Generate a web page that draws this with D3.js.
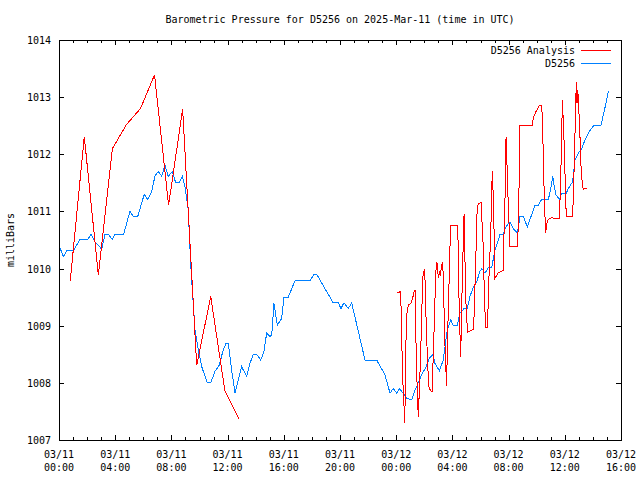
<!DOCTYPE html>
<html><head><meta charset="utf-8">
<script src="https://cdn.jsdelivr.net/npm/d3@7"></script>
<style>
html,body{margin:0;padding:0;background:#fff;}
text{font-family:"DejaVu Sans Mono","Liberation Mono",monospace;font-size:10px;fill:#000;}
</style></head>
<body>
<svg id="chart" width="640" height="480"></svg>
<script>
// ---- data (hours since 2025-03-11 00:00 UTC) ----
const titleText = "Barometric Pressure for D5256 on 2025-Mar-11 (time in UTC)";
const yLabel = "milliBars";
const seriesNames = ["D5256 Analysis", "D5256"];
const yTicks = [1007, 1008, 1009, 1010, 1011, 1012, 1013, 1014];

const analysisHours1 = [0.80, 1.80, 2.80, 3.80, 4.80, 5.80, 6.80, 7.80, 8.80, 9.80, 10.80, 11.80, 12.83];
const analysisP1 = [1009.78, 1012.31, 1009.89, 1012.10, 1012.52, 1012.80, 1013.39, 1011.11, 1012.79, 1008.31, 1009.51, 1007.87, 1007.36];

const analysisHours2 = [24.08, 24.32, 24.41, 24.48, 24.56, 24.61, 24.68, 24.75, 24.86, 25.05, 25.17, 25.29, 25.34, 25.41, 25.46, 25.50, 25.57, 25.64, 25.74, 25.82, 25.89, 25.96, 26.00, 26.05, 26.10, 26.24, 26.33, 26.41, 26.55, 26.60, 26.67, 26.74, 26.81, 26.85, 26.90, 26.95, 27.03, 27.07, 27.14, 27.24, 27.31, 27.35, 27.42, 27.49, 27.59, 27.64, 27.71, 27.78, 27.83, 27.88, 28.38, 28.42, 28.47, 28.54, 28.59, 28.66, 28.73, 28.83, 28.88, 28.92, 28.97, 29.02, 29.06, 29.20, 29.49, 29.54, 29.68, 29.73, 29.84, 30.04, 30.09, 30.20, 30.25, 30.32, 30.37, 30.51, 30.56, 30.73, 30.80, 30.84, 30.89, 30.96, 31.03, 31.15, 31.27, 31.51, 31.62, 31.67, 31.74, 31.77, 31.82, 31.86, 31.91, 31.98, 32.05, 32.10, 32.65, 32.69, 32.76, 32.81, 33.67, 33.76, 33.95, 34.19, 34.36, 34.40, 34.47, 34.52, 34.59, 34.64, 34.71, 34.83, 35.07, 35.30, 35.61, 35.66, 35.73, 35.80, 35.82, 35.89, 35.96, 36.01, 36.06, 36.10, 36.56, 36.63, 36.70, 36.78, 36.82, 36.87, 36.92, 36.99, 37.08, 37.15, 37.24, 37.31, 37.60];
const analysisP2 = [1009.57, 1009.60, 1008.60, 1008.00, 1007.57, 1007.29, 1008.58, 1009.19, 1009.36, 1009.39, 1009.48, 1009.62, 1009.62, 1008.70, 1008.20, 1007.85, 1007.41, 1007.82, 1008.50, 1009.22, 1009.85, 1009.90, 1010.00, 1009.80, 1009.30, 1008.30, 1007.93, 1007.88, 1007.84, 1008.20, 1008.70, 1009.31, 1009.83, 1010.07, 1010.12, 1009.95, 1009.83, 1009.95, 1009.87, 1010.07, 1010.12, 1009.81, 1009.14, 1008.50, 1007.94, 1008.60, 1009.31, 1009.89, 1010.40, 1010.75, 1010.75, 1010.24, 1009.48, 1008.84, 1008.45, 1009.31, 1010.07, 1010.95, 1010.43, 1009.72, 1009.37, 1009.23, 1008.88, 1008.90, 1008.94, 1009.16, 1010.30, 1010.91, 1011.14, 1011.15, 1010.90, 1010.37, 1009.80, 1009.25, 1008.97, 1008.97, 1009.60, 1010.60, 1011.38, 1011.70, 1011.38, 1010.70, 1009.83, 1009.88, 1009.93, 1009.95, 1009.97, 1010.57, 1011.10, 1011.90, 1012.31, 1012.05, 1011.60, 1011.10, 1010.67, 1010.38, 1010.38, 1010.90, 1011.60, 1012.50, 1012.50, 1012.64, 1012.75, 1012.85, 1012.86, 1012.60, 1012.00, 1011.45, 1010.90, 1010.63, 1010.79, 1010.86, 1010.89, 1010.88, 1010.87, 1011.20, 1011.80, 1012.60, 1012.95, 1012.60, 1012.15, 1011.70, 1011.30, 1010.92, 1010.92, 1011.44, 1012.10, 1012.90, 1013.27, 1012.90, 1013.13, 1012.84, 1012.31, 1011.80, 1011.50, 1011.39, 1011.41];

const stationHours = [0.00, 0.31, 0.55, 1.02, 1.49, 2.04, 2.28, 2.56, 3.04, 3.27, 3.51, 3.79, 3.99, 4.60, 5.05, 5.29, 5.60, 6.07, 6.31, 6.60, 6.83, 7.07, 7.31, 7.54, 7.78, 8.06, 8.31, 8.54, 8.78, 8.97, 9.20, 9.37, 9.52, 9.68, 9.91, 10.16, 10.56, 10.80, 11.10, 11.41, 11.69, 11.89, 12.05, 12.29, 12.53, 12.76, 13.00, 13.17, 13.36, 13.59, 13.83, 14.07, 14.36, 14.59, 14.78, 15.02, 15.14, 15.30, 15.54, 15.85, 16.01, 16.32, 16.80, 17.86, 18.15, 18.34, 19.52, 19.88, 20.07, 20.28, 20.59, 20.83, 21.78, 22.61, 23.20, 23.56, 23.79, 24.04, 24.22, 24.46, 24.75, 25.10, 25.27, 25.55, 25.81, 26.12, 26.36, 26.60, 26.76, 27.07, 27.35, 27.54, 27.64, 27.88, 28.06, 28.35, 28.54, 28.83, 29.06, 29.25, 29.49, 29.73, 29.96, 30.09, 30.32, 30.56, 30.80, 31.03, 31.27, 31.39, 31.62, 31.81, 32.10, 32.33, 32.62, 32.81, 33.05, 33.33, 33.64, 33.88, 34.11, 34.36, 34.83, 35.00, 35.14, 35.25, 35.37, 35.61, 35.78, 36.09, 36.25, 36.56, 36.73, 36.96, 37.20, 37.44, 37.74, 38.08, 38.58, 38.74, 38.93, 39.10];
const stationP = [1010.41, 1010.21, 1010.31, 1010.31, 1010.51, 1010.51, 1010.60, 1010.47, 1010.34, 1010.60, 1010.60, 1010.51, 1010.60, 1010.60, 1011.00, 1010.91, 1010.91, 1011.30, 1011.21, 1011.35, 1011.62, 1011.70, 1011.62, 1011.81, 1011.61, 1011.70, 1011.50, 1011.50, 1011.61, 1011.43, 1011.03, 1010.09, 1009.51, 1008.93, 1008.58, 1008.28, 1008.00, 1008.00, 1008.20, 1008.31, 1008.58, 1008.69, 1008.69, 1008.22, 1007.82, 1008.05, 1008.28, 1008.20, 1008.11, 1008.34, 1008.50, 1008.50, 1008.40, 1008.55, 1008.87, 1008.81, 1008.84, 1009.39, 1009.01, 1009.13, 1009.50, 1009.50, 1009.79, 1009.79, 1009.90, 1009.90, 1009.40, 1009.40, 1009.30, 1009.40, 1009.30, 1009.40, 1008.40, 1008.40, 1008.14, 1007.82, 1007.90, 1007.82, 1007.90, 1007.83, 1007.73, 1007.70, 1007.83, 1007.99, 1008.14, 1008.28, 1008.43, 1008.50, 1008.34, 1008.21, 1008.40, 1008.75, 1008.93, 1009.10, 1009.01, 1009.01, 1009.22, 1009.30, 1009.30, 1009.51, 1009.68, 1009.77, 1009.95, 1010.00, 1009.92, 1010.02, 1010.02, 1010.33, 1010.50, 1010.60, 1010.60, 1010.73, 1010.82, 1010.70, 1010.62, 1010.91, 1010.91, 1010.73, 1010.94, 1011.11, 1011.11, 1011.21, 1011.21, 1011.40, 1011.61, 1011.43, 1011.29, 1011.21, 1011.31, 1011.31, 1011.40, 1011.52, 1011.90, 1012.02, 1012.10, 1012.25, 1012.40, 1012.51, 1012.51, 1012.69, 1012.89, 1013.10];

// ---- chart ----
const t0 = Date.UTC(2025, 2, 11, 0, 0);
const toDate = h => new Date(t0 + h * 3600000);
const M = {left: 59, right: 621, top: 40, bottom: 440};
const svg = d3.select("#chart");

const x = d3.scaleUtc().domain([toDate(0), toDate(40)]).range([M.left, M.right]);
const y = d3.scaleLinear().domain([1007, 1014]).range([M.bottom, M.top]);

const zip = (hs, ps) => hs.map((h, i) => ({t: toDate(h), p: ps[i]}));
const line = d3.line().x(d => x(d.t)).y(d => y(d.p));

svg.append("clipPath").attr("id", "pc").append("rect")
  .attr("x", M.left).attr("y", M.top).attr("width", M.right - M.left + 1).attr("height", M.bottom - M.top);

const majors = x.ticks(d3.utcHour.every(4));
const minors = x.ticks(d3.utcHour.every(1));
const tickG = svg.append("g").attr("stroke", "#000").attr("stroke-width", 1).attr("shape-rendering", "crispEdges");
minors.forEach(d => {
  const xx = Math.round(x(d)) + 0.5;
  const len = majors.some(m => +m === +d) ? 5 : 3;
  tickG.append("line").attr("x1", xx).attr("x2", xx).attr("y1", M.bottom).attr("y2", M.bottom - len);
  tickG.append("line").attr("x1", xx).attr("x2", xx).attr("y1", M.top).attr("y2", M.top + len);
});
yTicks.forEach(v => {
  const yy = Math.round(y(v)) + 0.5;
  tickG.append("line").attr("x1", M.left).attr("x2", M.left + 5).attr("y1", yy).attr("y2", yy);
  tickG.append("line").attr("x1", M.right).attr("x2", M.right - 5).attr("y1", yy).attr("y2", yy);
});

// series
const plot = svg.append("g").attr("clip-path", "url(#pc)").attr("fill", "none")
  .attr("stroke-width", 1).attr("shape-rendering", "crispEdges");
plot.append("path").datum(zip(stationHours, stationP)).attr("d", line).attr("stroke", "#0080ff");
plot.append("path").datum(zip(analysisHours1, analysisP1)).attr("d", line).attr("stroke", "#ff0000");
plot.append("path").datum(zip(analysisHours2, analysisP2)).attr("d", line).attr("stroke", "#ff0000");

// frame
svg.append("rect").attr("x", M.left + 0.5).attr("y", M.top + 0.5)
  .attr("width", M.right - M.left).attr("height", M.bottom - M.top)
  .attr("fill", "none").attr("stroke", "#000").attr("shape-rendering", "crispEdges");

// y tick labels
yTicks.forEach(v => {
  svg.append("text").attr("x", 51).attr("y", y(v) + 4).attr("text-anchor", "end").text(v);
});
// x tick labels
const fDate = d3.utcFormat("%m/%d"), fTime = d3.utcFormat("%H:%M");
majors.forEach(d => {
  const t = svg.append("text").attr("text-anchor", "middle");
  t.append("tspan").attr("x", x(d)).attr("y", 458).text(fDate(d));
  t.append("tspan").attr("x", x(d)).attr("y", 471).text(fTime(d));
});

// title & axis label
svg.append("text").attr("x", 340).attr("y", 23).attr("text-anchor", "middle").text(titleText);
svg.append("text").attr("transform", "translate(14,240) rotate(-90)").attr("text-anchor", "middle").text(yLabel);

// legend
const legColors = ["#ff0000", "#0080ff"];
seriesNames.forEach((n, i) => {
  const ly = 50 + i * 13;
  svg.append("text").attr("x", 575).attr("y", ly + 4).attr("text-anchor", "end").text(n);
  svg.append("line").attr("x1", 581).attr("x2", 611).attr("y1", ly + 0.5).attr("y2", ly + 0.5)
    .attr("stroke", legColors[i]).attr("shape-rendering", "crispEdges");
});
</script>
</body></html>
